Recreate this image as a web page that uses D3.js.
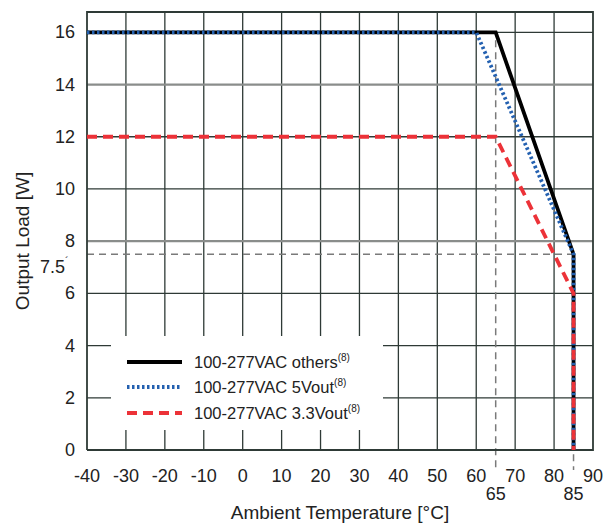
<!DOCTYPE html>
<html>
<head>
<meta charset="utf-8">
<script src="https://cdn.jsdelivr.net/npm/d3@7"></script>
<style>
body { margin: 0; background: #fff; }
text { font-family: "Liberation Sans Narrow", "Arial Narrow", "Liberation Sans", sans-serif; fill: #222; }
</style>
</head>
<body>
<svg width="603" height="523"></svg>
<script>
// derating curve data (temperature in °C, load in W)
let xTicks = [-40, -30, -20, -10, 0, 10, 20, 30, 40, 50, 60, 70, 80, 90];
let yTicks = [0, 2, 4, 6, 8, 10, 12, 14, 16];
let seriesNames = ["100-277VAC others", "100-277VAC 5Vout", "100-277VAC 3.3Vout"];
let othersTemp = [-40, 65, 85, 85];
let othersLoad = [16, 16, 7.5, 0];
let v5Temp = [-40, 60, 85, 85];
let v5Load = [16, 16, 7.5, 0];
let v33Temp = [-40, 65, 85, 85];
let v33Load = [12, 12, 6, 0];
let markTemps = [65, 85];
let markTop = [16, 7.5];   // where each dashed marker line starts
let markLoad = 7.5;

var svg = d3.select("svg");
let mLeft = 87, mRight = 593, mTop = 12, mBottom = 450;
let gridDark = "#2e3a36";

let x = d3.scaleLinear().domain([-40, 90]).range([mLeft, mRight]);
let y = d3.scaleLinear().domain([0, 16.78]).range([mBottom, mTop]);

// grid
let grid = svg.append("g");
grid.selectAll("line.v")
    .data(xTicks.slice(1, -1))
    .enter().append("line")
    .attr("x1", d => x(d)).attr("x2", d => x(d))
    .attr("y1", mTop).attr("y2", mBottom)
    .attr("stroke", gridDark).attr("stroke-width", 1.3);
grid.selectAll("line.h")
    .data(yTicks.slice(1))
    .enter().append("line")
    .attr("x1", mLeft).attr("x2", mRight)
    .attr("y1", d => y(d)).attr("y2", d => y(d))
    .attr("stroke", d => (d == 8 || d == 14) ? "#8a8d8b" : gridDark)
    .attr("stroke-width", d => (d == 8 || d == 14) ? 2.2 : 1.3);

// legend background covers part of the grid
svg.append("rect")
    .attr("x", 111).attr("y", 336)
    .attr("width", 272).attr("height", 94)
    .attr("fill", "#fff");

// reference dashed lines
let dash = svg.append("g")
    .attr("stroke", "#7a7a7a").attr("stroke-width", 1.5)
    .attr("stroke-dasharray", "7,5");
dash.append("line")
    .attr("x1", mLeft).attr("x2", x(85))
    .attr("y1", y(markLoad)).attr("y2", y(markLoad));
dash.selectAll("line.m")
    .data(markTemps)
    .enter().append("line")
    .attr("x1", d => x(d)).attr("x2", d => x(d))
    .attr("y1", (d, i) => y(markTop[i]) + 8).attr("y2", 470);

// frame
svg.append("path")
    .attr("d", `M${mLeft},${mBottom}V${mTop}H${mRight}V${mBottom}H${mLeft}`)
    .attr("fill", "none").attr("stroke", gridDark).attr("stroke-width", 1.8);

// data lines
let line = d3.line().x(d => x(d[0])).y(d => y(d[1]));
let styles = [
    { color: "#000", width: 3.8, dash: null },
    { color: "#2360b0", width: 3.8, dash: "2.5,2.5" },
    { color: "#ec3238", width: 3.8, dash: "10,6" }
];
let series = [
    d3.zip(othersTemp, othersLoad),
    d3.zip(v5Temp, v5Load),
    d3.zip(v33Temp, v33Load)
];
series.forEach((pts, i) => {
    svg.append("path")
        .datum(pts)
        .attr("d", line)
        .attr("fill", "none")
        .attr("stroke", styles[i].color)
        .attr("stroke-width", styles[i].width)
        .attr("stroke-dasharray", styles[i].dash);
});

// tick labels
svg.selectAll("text.xt")
    .data(xTicks)
    .enter().append("text")
    .attr("x", d => x(d)).attr("y", 482)
    .attr("text-anchor", "middle")
    .attr("font-size", 18)
    .text(d => d);
svg.selectAll("text.xm")
    .data(markTemps)
    .enter().append("text")
    .attr("x", d => x(d)).attr("y", 500)
    .attr("text-anchor", "middle")
    .attr("font-size", 18)
    .text(d => d);
svg.selectAll("text.yt")
    .data(yTicks)
    .enter().append("text")
    .attr("x", 75).attr("y", d => y(d) + 6)
    .attr("text-anchor", "end")
    .attr("font-size", 18)
    .text(d => d);
svg.append("text")
    .attr("x", 65).attr("y", y(markLoad) + 19)
    .attr("text-anchor", "end")
    .attr("font-size", 18)
    .text("7.5");
svg.append("text")
    .attr("x", 65).attr("y", y(markLoad) + 11)
    .attr("font-size", 11)
    .text("´");

// axis titles
svg.append("text")
    .attr("x", x(25)).attr("y", 519)
    .attr("text-anchor", "middle")
    .attr("font-size", 19)
    .text("Ambient Temperature [°C]");
svg.append("text")
    .attr("transform", `translate(29,${(mTop + mBottom) / 2 + 10}) rotate(-90)`)
    .attr("text-anchor", "middle")
    .attr("font-size", 19)
    .text("Output Load [W]");

// legend
let legendY = [362, 387, 413];
let legend = svg.append("g");
seriesNames.forEach((name, i) => {
    legend.append("line")
        .attr("x1", 127).attr("x2", 182)
        .attr("y1", legendY[i]).attr("y2", legendY[i])
        .attr("stroke", styles[i].color)
        .attr("stroke-width", styles[i].width)
        .attr("stroke-dasharray", styles[i].dash);
    let t = legend.append("text")
        .attr("x", 194).attr("y", legendY[i] + 6)
        .attr("font-size", 16.5);
    t.append("tspan").text(name);
    t.append("tspan").attr("dy", -7).attr("font-size", 10).text("(8)");
});
</script>
</body>
</html>
